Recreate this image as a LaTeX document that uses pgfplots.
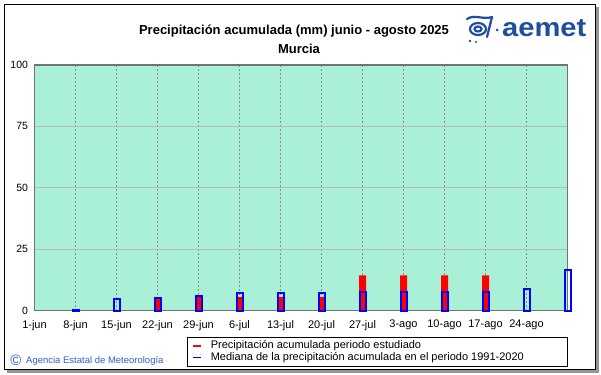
\documentclass[border=0pt]{standalone}
\usepackage{fontspec}
\setmainfont{Liberation Sans}
\usepackage{graphicx}
\usepackage{pgfplots}
\pgfplotsset{compat=1.18}
\definecolor{bgaqua}{RGB}{170,240,215}
\definecolor{gridh}{RGB}{185,185,185}
\definecolor{gridv}{RGB}{140,140,140}
\definecolor{axgray}{RGB}{115,115,115}
\definecolor{logoblue}{RGB}{30,78,158}
\definecolor{copyblue}{RGB}{45,95,205}
\definecolor{shadowgray}{RGB}{150,150,150}
\begin{document}
\begin{tikzpicture}
\useasboundingbox (0pt,0pt) rectangle (601pt,374pt);
\fill[shadowgray] (7pt,1.5pt) rectangle (598.5pt,367pt);
\filldraw[fill=white,draw=black,line width=1pt] (4pt,4.5pt) rectangle (595pt,369.5pt);
\node[anchor=base, font=\fontsize{13}{15}\selectfont\bfseries, inner sep=0pt] at (294pt,339pt) {Precipitación acumulada (mm) junio - agosto 2025};
\node[anchor=base, font=\fontsize{13}{15}\selectfont\bfseries, inner sep=0pt] at (299pt,320.5pt) {Murcia};
\node[anchor=base west, font=\fontsize{26}{28}\selectfont\bfseries, text=logoblue, inner sep=0pt] at (502pt,337.3pt) {\scalebox{1.12}[1]{aemet}};
\begin{scope}[draw=logoblue, fill=logoblue, line width=2.2pt, line cap=round]
\draw (467pt,355pt) .. controls (474pt,360pt) and (484pt,354pt) .. (492pt,357pt);
\draw (492pt,357pt) -- (487pt,337pt);
\draw (478pt,345pt) ellipse (8pt and 6pt);
\draw (478pt,345pt) ellipse (3.5pt and 2.5pt);
\fill (470pt,333pt) circle (1.3pt);
\fill (476pt,332pt) circle (1.2pt);
\fill (497pt,344pt) circle (1.5pt);
\end{scope}
\node[anchor=center, font=\fontsize{15}{15}\selectfont, text=copyblue, inner sep=0pt] at (16pt,13.3pt) {©};
\node[anchor=west, font=\fontsize{9.5}{11}\selectfont, text=copyblue, inner sep=0pt] at (26pt,13.3pt) {Agencia Estatal de Meteorología};
\begin{axis}[
  at={(34.5pt,63.3pt)}, anchor=south west,
  scale only axis, width=533pt, height=245.7pt,
  xmin=0, xmax=91, ymin=0, ymax=100,
  clip=false,
  axis background/.style={fill=bgaqua},
  axis line style={draw=axgray, line width=1.5pt},
  xtick={0,7,...,91},
  xticklabels={1-jun,8-jun,15-jun,22-jun,29-jun,6-jul,13-jul,20-jul,27-jul,3-ago,10-ago,17-ago,24-ago,{}},
  ytick={0,25,50,75,100},
  major tick length=0pt,
  xmajorgrids, ymajorgrids,
  x grid style={draw=gridv, dash pattern=on 2pt off 2pt, line width=0.8pt},
  y grid style={draw=gridh, line width=1.2pt},
  xticklabel style={font=\fontsize{11}{13}\selectfont, yshift=-6pt},
  yticklabel style={font=\fontsize{10.5}{12}\selectfont, xshift=-3pt},
  /pgf/number format/assume math mode=true,
  legend style={at={(axis description cs:1,-0.107)}, anchor=north east, draw=black, fill=white,
    font=\fontsize{11}{11}\selectfont, row sep=0pt, inner xsep=5pt, inner ysep=3pt,
    nodes={inner sep=0.5pt, text height=8pt, text depth=2.5pt}},
  legend cell align=left,
]
\addplot[ybar, bar width=7pt, bar shift=0pt, fill=red, draw=none, forget plot] coordinates {(21,4.9)(28,5.6)(35,5.6)(42,5.6)(49,5.6)(56,14.4)(63,14.4)(70,14.4)(77,14.4)};
\addplot[ybar, bar width=6pt, bar shift=0pt, draw=blue, line width=2pt, fill=none, forget plot] coordinates {(7,0.3)(14,4.9)(21,5.1)(28,6.0)(35,7.3)(42,7.4)(49,7.4)(56,7.5)(63,7.5)(70,7.5)(77,7.5)(84,8.7)(91,16.6)};
\addlegendimage{legend image code/.code={\draw[draw=red, line width=1.2pt] (0pt,0pt) -- (8pt,0pt); \path[draw=none] (0pt,0pt) -- (17pt,0pt);}}
\addlegendentry{Precipitación acumulada periodo estudiado}
\addlegendimage{legend image code/.code={\draw[draw=blue, line width=1.2pt] (0pt,0pt) -- (8pt,0pt); \path[draw=none] (0pt,0pt) -- (17pt,0pt);}}
\addlegendentry{\makebox[351pt][l]{Mediana de la precipitación acumulada en el periodo 1991-2020}}
\end{axis}
\end{tikzpicture}
\end{document}
